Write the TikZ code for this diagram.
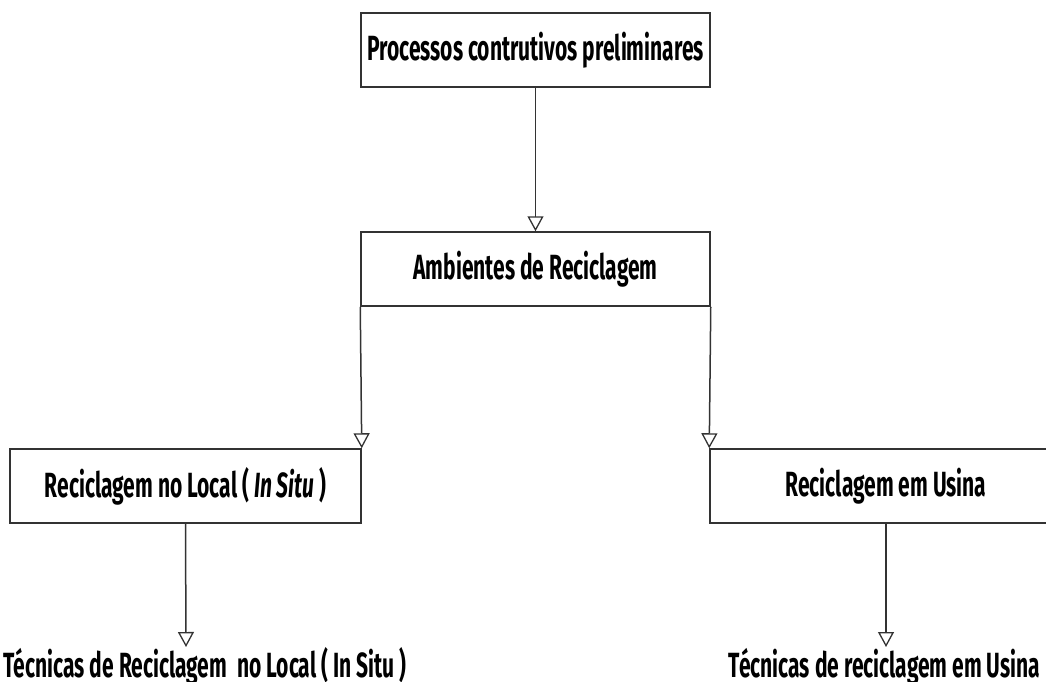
\documentclass[tikz,border=0pt]{standalone}
\usepackage{fontspec}
\setmainfont{Fira Sans}[FakeStretch=0.6]
\usetikzlibrary{arrows.meta}
\definecolor{linegray}{HTML}{333333}
\begin{document}
\begin{tikzpicture}[x=1pt,y=-1pt,
  box/.style={draw=linegray,line width=1.5pt,rectangle,inner sep=0pt,
    minimum height=74pt,font=\fontsize{35}{40}\selectfont\bfseries},
  label/.style={inner sep=0pt,anchor=base,font=\fontsize{35}{40}\selectfont\bfseries},
  flow/.style={draw=linegray,line width=1.5pt,
    -{Triangle[open,width=16pt,length=15pt,line width=1.3pt]}}]
\useasboundingbox (0,0) rectangle (1046,682);
\clip (0,0) rectangle (1046,682);

\node[box,minimum width=349pt] (top) at (535.5,50) {Processos contrutivos preliminares};
\node[box,minimum width=349pt] (mid) at (535.5,269) {Ambientes de Reciclagem};
\node[box,minimum width=351pt] (left) at (185.5,486) {Reciclagem no Local ( \textit{In Situ} )};
\node[box,minimum width=352pt] (right) at (886,486) {Reciclagem em Usina};

\node[label] (ltech) at (205,677) {Técnicas de Reciclagem\ \ no Local ( In Situ )};
\node[label] (rtech) at (884.5,677) {Técnicas de reciclagem em Usina};

\coordinate (lend) at (186,647);
\coordinate (rend) at (886,647);

\draw[flow] (top.south) -- (mid.north);
\draw[flow] (mid.south west) -- (left.north east);
\draw[flow] (mid.south east) -- (right.north west);
\draw[flow] (left.south) -- (lend);
\draw[flow] (right.south) -- (rend);
\end{tikzpicture}
\end{document}
